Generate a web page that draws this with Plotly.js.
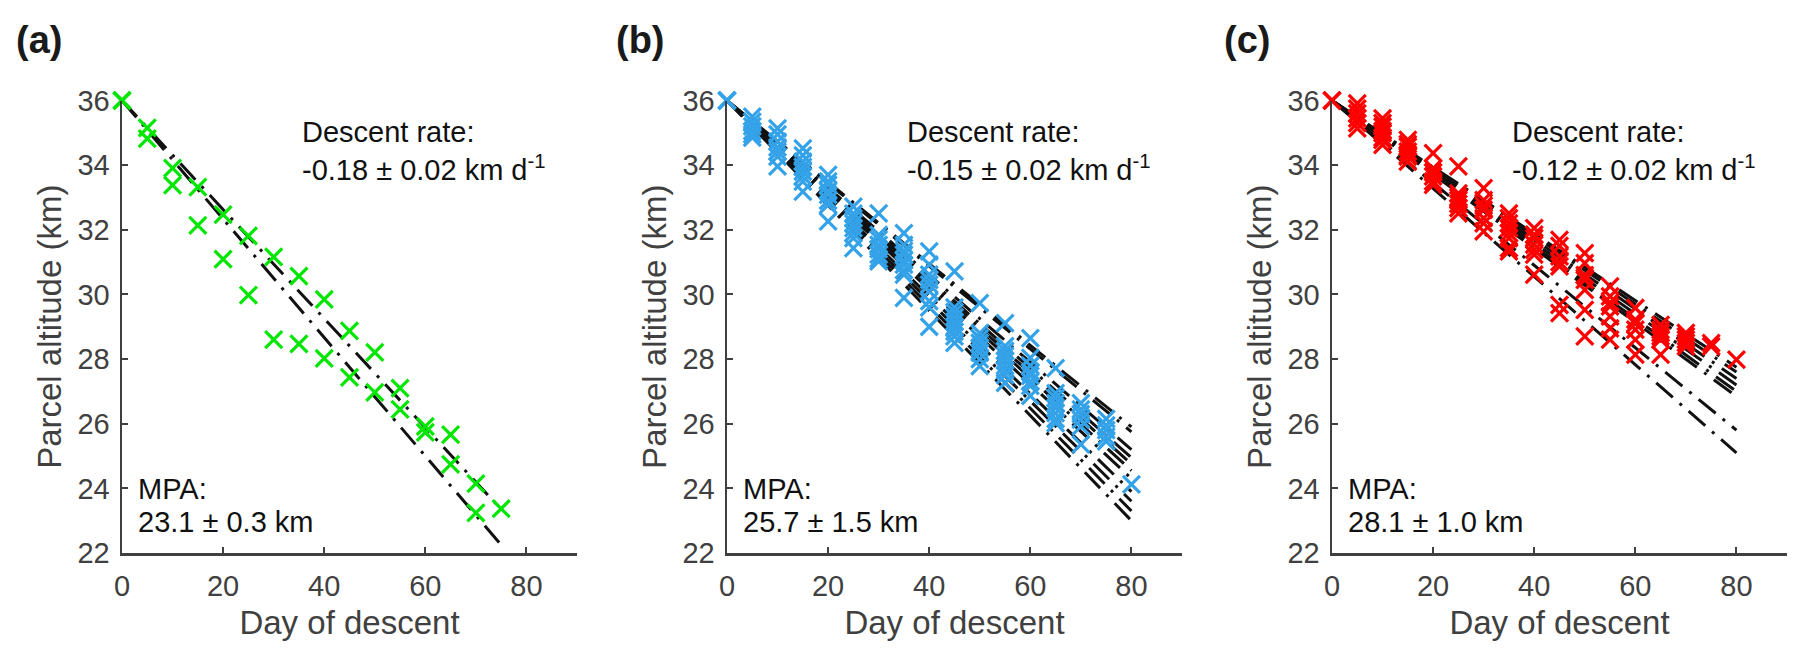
<!DOCTYPE html>
<html>
<head>
<meta charset="utf-8">
<script src="https://cdn.plot.ly/plotly-3.0.1.min.js"></script>
<style>html,body{margin:0;padding:0;background:#fff;}#chart{width:1807px;height:664px;}</style>
</head>
<body>
<div id="chart"></div>
<script>
// ---------- data ----------
const panelLabels = ['(a)', '(b)', '(c)'];
const rateTexts = ['-0.18 ± 0.02 km d<sup>-1</sup>', '-0.15 ± 0.02 km d<sup>-1</sup>', '-0.12 ± 0.02 km d<sup>-1</sup>'];
const mpaTexts = ['23.1 ± 0.3 km', '25.7 ± 1.5 km', '28.1 ± 1.0 km'];
const xTickVals = [0, 20, 40, 60, 80];
const yTickVals = [22, 24, 26, 28, 30, 32, 34, 36];
const startAlt = 36;

// Panel (a)
const daysA = [0, 5, 10, 15, 20, 25, 30, 35, 40, 45, 50, 55, 60, 65, 70, 75];
const altsA = [
  [36, 36], [35.15, 34.82], [33.91, 33.38], [33.32, 32.14], [32.47, 31.09],
  [31.81, 29.98], [31.16, 28.60], [30.57, 28.47], [29.85, 28.02], [28.87, 27.43],
  [28.21, 26.97], [27.10, 26.44], [25.92, 25.73], [25.66, 24.74], [24.15, 23.24], [23.37]
];
const fitDayA = 75;
const fitEndA = [22.25, 23.35];

// Panel (b)
const daysB = [0, 5, 10, 15, 20, 25, 30, 35, 40, 45, 50, 55, 60, 65, 70, 75, 80];
const altsB = [
  [36, 36, 36],
  [35.5, 35.35, 35.2, 35.05, 34.95, 34.85],
  [35.14, 34.95, 34.73, 34.55, 34.42, 34.26, 33.96],
  [34.52, 34.3, 34.11, 33.95, 33.8, 33.65, 33.49, 33.18],
  [33.70, 33.5, 33.39, 33.2, 33.08, 32.9, 32.77, 32.26],
  [32.72, 32.5, 32.36, 32.2, 32.05, 31.9, 31.74, 31.43],
  [32.51, 31.84, 31.7, 31.53, 31.4, 31.23, 31.1, 31.02],
  [31.90, 31.53, 31.35, 31.23, 31.05, 30.92, 30.75, 30.61, 29.89],
  [31.33, 30.92, 30.61, 30.45, 30.3, 30.1, 29.79, 29.6, 29.0],
  [30.71, 29.6, 29.45, 29.3, 29.15, 29.0, 28.85, 28.7, 28.5],
  [29.73, 28.8, 28.65, 28.5, 28.35, 28.2, 28.0, 27.78],
  [29.11, 28.4, 28.25, 28.1, 27.95, 27.8, 27.65, 27.5, 27.26],
  [28.65, 28.04, 27.8, 27.6, 27.48, 27.3, 27.17, 26.86],
  [27.72, 26.95, 26.8, 26.64, 26.5, 26.33, 26.15, 26.02],
  [26.64, 26.44, 26.3, 26.13, 25.92, 25.36],
  [26.15, 25.95, 25.8, 25.6, 25.45],
  [24.12]
];
const fitDayB = 80;
const fitEndB = [25.9, 25.75, 25.2, 24.95, 24.75, 24.55, 24.3, 23.9, 23.6, 23.3, 23.0];

// Panel (c)
const daysC = [0, 5, 10, 15, 20, 25, 30, 35, 40, 45, 50, 55, 60, 65, 70, 75, 80];
const altsC = [
  [36, 36],
  [35.91, 35.75, 35.6, 35.45, 35.3, 35.14],
  [35.45, 35.3, 35.19, 35.05, 34.99, 34.85, 34.78, 34.63],
  [34.78, 34.65, 34.57, 34.42, 34.3, 34.26, 34.11],
  [34.37, 33.9, 33.78, 33.65, 33.5, 33.39],
  [33.96, 33.13, 33.0, 32.92, 32.8, 32.67, 32.51],
  [33.29, 32.92, 32.75, 32.62, 32.36, 32.2, 31.95],
  [32.51, 32.36, 32.2, 32.05, 31.9, 31.74, 31.43, 31.33],
  [32.05, 31.85, 31.74, 31.54, 31.38, 31.23, 30.61],
  [31.69, 31.5, 31.18, 31.0, 30.87, 29.68, 29.42],
  [31.28, 30.97, 30.6, 30.45, 30.14, 29.52, 28.70],
  [30.25, 29.94, 29.75, 29.63, 29.32, 28.95, 28.6],
  [29.58, 29.22, 29.1, 28.91, 28.60, 28.14],
  [29.06, 28.9, 28.81, 28.7, 28.60, 28.14],
  [28.81, 28.7, 28.60, 28.5, 28.39],
  [28.49, 28.39],
  [27.98]
];
const fitDayC = 80;
const fitEndC = [27.75, 27.6, 27.4, 27.2, 27.0, 26.85, 25.8, 25.1];

// ---------- styling ----------
const FONT = '"Liberation Sans", Arial, Helvetica, sans-serif';
const AXC = '#404040';
const colors = ['#00E600', '#34A2E8', '#FF0000'];
const W = 1807, H = 664;
const xPix = [[122, 577], [727, 1182], [1332, 1787]];
const yTop = 100.5, yBot = 553;

function flatten(days, alts) {
  const x = [], y = [];
  days.forEach((d, i) => alts[i].forEach(v => { x.push(d); y.push(v); }));
  return {x, y};
}

const panels = [
  {days: daysA, alts: altsA, fitDay: fitDayA, ends: fitEndA},
  {days: daysB, alts: altsB, fitDay: fitDayB, ends: fitEndB},
  {days: daysC, alts: altsC, fitDay: fitDayC, ends: fitEndC}
];

const traces = [];
const layout = {
  width: W, height: H, autosize: false,
  margin: {l: 0, r: 0, t: 0, b: 0},
  paper_bgcolor: '#fff', plot_bgcolor: '#fff',
  showlegend: false,
  font: {family: FONT, color: AXC},
  annotations: []
};

panels.forEach((p, i) => {
  const xa = i === 0 ? 'x' : 'x' + (i + 1);
  const ya = i === 0 ? 'y' : 'y' + (i + 1);
  const pts = flatten(p.days, p.alts);
  p.ends.forEach(e => {
    traces.push({
      type: 'scatter', mode: 'lines', x: [0, p.fitDay], y: [startAlt, e], xaxis: xa, yaxis: ya,
      cliponaxis: false, hoverinfo: 'skip',
      line: {color: '#111', width: 3, dash: '22px,9px,3px,9px'}
    });
  });
  traces.push({
    type: 'scatter', mode: 'markers', x: pts.x, y: pts.y, xaxis: xa, yaxis: ya,
    cliponaxis: false, hoverinfo: 'skip',
    marker: {symbol: 'x-thin-open', size: 17, color: colors[i], line: {color: colors[i], width: 3.2}}
  });
  const axKeyX = i === 0 ? 'xaxis' : 'xaxis' + (i + 1);
  const axKeyY = i === 0 ? 'yaxis' : 'yaxis' + (i + 1);
  layout[axKeyX] = {
    domain: [xPix[i][0] / W, xPix[i][1] / W], anchor: ya,
    range: [0, 90], tickvals: xTickVals, ticktext: xTickVals.map(String),
    showline: true, linecolor: AXC, linewidth: 2.5, mirror: false,
    ticks: 'inside', ticklen: 6, tickwidth: 2, tickcolor: AXC,
    showgrid: false, zeroline: false, fixedrange: true,
    tickfont: {family: FONT, size: 29, color: AXC}, ticklabelstandoff: 6,
    title: {text: 'Day of descent', font: {family: FONT, size: 33, color: AXC}, standoff: 10}
  };
  layout[axKeyY] = {
    domain: [1 - yBot / H, 1 - yTop / H], anchor: xa,
    range: [22, 36], tickvals: yTickVals, ticktext: yTickVals.map(String),
    showline: true, linecolor: AXC, linewidth: 2.5, mirror: false,
    ticks: 'inside', ticklen: 6, tickwidth: 2, tickcolor: AXC,
    showgrid: false, zeroline: false, fixedrange: true,
    tickfont: {family: FONT, size: 29, color: AXC}, ticklabelstandoff: 4,
    title: {text: 'Parcel altitude (km)', font: {family: FONT, size: 33, color: AXC}, standoff: 6}
  };
  const xd = xa + ' domain';
  const ann = (text, xf, ypx, size, color) => layout.annotations.push({
    text: text, xref: xd, yref: 'paper',
    x: xf, y: 1 - ypx / H, xanchor: 'left', yanchor: 'middle', showarrow: false,
    font: {family: FONT, size: size, color: color}
  });
  ann('Descent rate:', 178 / 455, 132, 29, '#111');
  ann(rateTexts[i], 178 / 455, 168, 29, '#111');
  ann('MPA:', 14 / 455, 489, 29, '#111');
  ann(mpaTexts[i], 14 / 455, 522, 29, '#111');
  layout.annotations.push({
    text: '<b>' + panelLabels[i] + '</b>', xref: 'paper', yref: 'paper',
    x: [14, 614, 1222][i] / W, y: 1 - 40 / H, xanchor: 'left', yanchor: 'middle', showarrow: false,
    font: {family: FONT, size: 38, color: '#1a1a1a'}
  });
});

Plotly.newPlot('chart', traces, layout, {displayModeBar: false, staticPlot: true});
</script>
</body>
</html>
